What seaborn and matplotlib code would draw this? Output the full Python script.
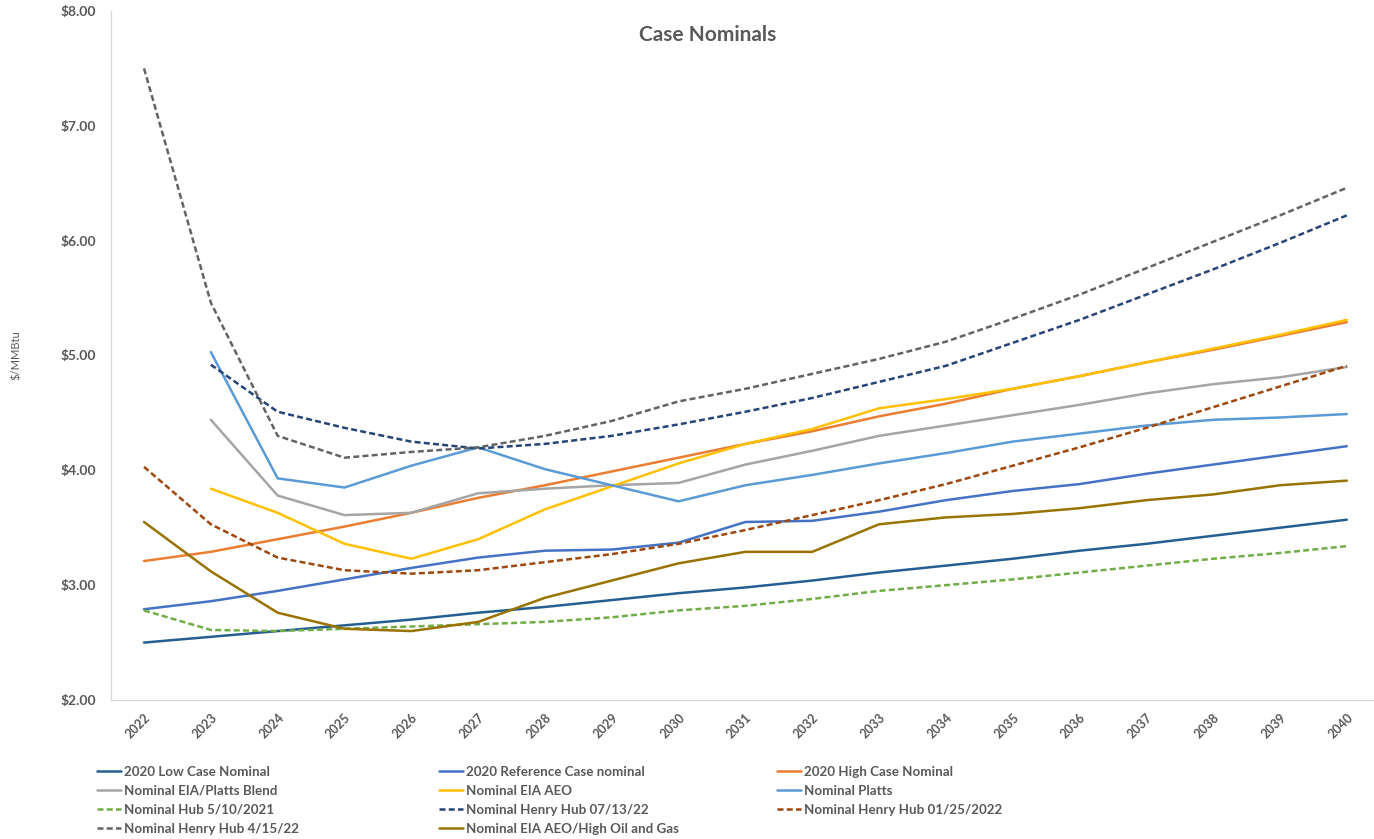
import numpy as np
import pandas as pd
import matplotlib
matplotlib.use('Agg')
import matplotlib.pyplot as plt
import seaborn as sns

# years on the category axis
years = list(range(2022, 2041))
nan = np.nan

# series values ($/MMBtu)
low_case = [2.50, 2.55, 2.60, 2.65, 2.70, 2.76, 2.81, 2.87, 2.93, 2.98, 3.04, 3.11, 3.17, 3.23, 3.30, 3.36, 3.43, 3.50, 3.57]
reference_case = [2.79, 2.86, 2.95, 3.05, 3.15, 3.24, 3.30, 3.31, 3.37, 3.55, 3.56, 3.64, 3.74, 3.82, 3.88, 3.97, 4.05, 4.13, 4.21]
high_case = [3.21, 3.29, 3.40, 3.51, 3.63, 3.76, 3.87, 3.99, 4.11, 4.23, 4.34, 4.47, 4.58, 4.71, 4.82, 4.94, 5.05, 5.17, 5.29]
platts_blend = [nan, 4.44, 3.78, 3.61, 3.63, 3.80, 3.84, 3.87, 3.89, 4.05, 4.17, 4.30, 4.39, 4.48, 4.57, 4.67, 4.75, 4.81, 4.90]
eia_aeo = [nan, 3.84, 3.63, 3.36, 3.23, 3.40, 3.66, 3.86, 4.06, 4.23, 4.36, 4.54, 4.62, 4.71, 4.82, 4.94, 5.06, 5.18, 5.31]
platts = [nan, 5.03, 3.93, 3.85, 4.04, 4.20, 4.01, 3.87, 3.73, 3.87, 3.96, 4.06, 4.15, 4.25, 4.32, 4.39, 4.44, 4.46, 4.49]
hub_051021 = [2.78, 2.61, 2.60, 2.62, 2.64, 2.66, 2.68, 2.72, 2.78, 2.82, 2.88, 2.95, 3.00, 3.05, 3.11, 3.17, 3.23, 3.28, 3.34]
hh_071322 = [nan, 4.92, 4.51, 4.37, 4.25, 4.19, 4.23, 4.30, 4.40, 4.51, 4.63, 4.77, 4.91, 5.11, 5.31, 5.53, 5.75, 5.98, 6.22]
hh_012522 = [4.03, 3.53, 3.24, 3.13, 3.10, 3.13, 3.20, 3.27, 3.36, 3.48, 3.61, 3.74, 3.88, 4.04, 4.20, 4.37, 4.55, 4.73, 4.91]
hh_041522 = [7.50, 5.46, 4.30, 4.11, 4.16, 4.20, 4.30, 4.43, 4.60, 4.71, 4.84, 4.97, 5.12, 5.32, 5.53, 5.76, 5.99, 6.22, 6.46]
aeo_high_oil = [3.55, 3.12, 2.76, 2.62, 2.60, 2.68, 2.89, 3.04, 3.19, 3.29, 3.29, 3.53, 3.59, 3.62, 3.67, 3.74, 3.79, 3.87, 3.91]

# name, values, colour, dashed, legend column
series = [
    ('2020 Low Case Nominal', low_case, '#255E91', False, 0),
    ('2020 Reference Case nominal', reference_case, '#4472C4', False, 1),
    ('2020 High Case Nominal', high_case, '#ED7D31', False, 2),
    ('Nominal EIA/Platts Blend', platts_blend, '#A5A5A5', False, 0),
    ('Nominal EIA AEO', eia_aeo, '#FFC000', False, 1),
    ('Nominal Platts', platts, '#5B9BD5', False, 2),
    ('Nominal Hub 5/10/2021', hub_051021, '#70AD47', True, 0),
    ('Nominal Henry Hub 07/13/22', hh_071322, '#264478', True, 1),
    ('Nominal Henry Hub 01/25/2022', hh_012522, '#9E480E', True, 2),
    ('Nominal Henry Hub 4/15/22', hh_041522, '#636363', True, 0),
    ('Nominal EIA AEO/High Oil and Gas', aeo_high_oil, '#997300', False, 1),
]

sns.set_style('white')
plt.rcParams['font.family'] = ['Lato', 'DejaVu Sans']

W, H = 1374, 839
fig = plt.figure(figsize=(W / 100, H / 100), dpi=100)
ax = fig.add_axes([0.0805, 0.1657, 0.924, 0.8212])

text_grey = '#595959'
columns = {0: [], 1: [], 2: []}
for name, vals, col, dashed, leg_col in series:
    df = pd.DataFrame({'year': years, 'value': vals}).dropna()
    sns.lineplot(data=df, x='year', y='value', ax=ax, color=col, lw=1.8,
                 linestyle='--' if dashed else '-')
    line = ax.lines[-1]
    if dashed:
        line.set_dashes((2.4, 1.3))
    columns[leg_col].append((line, name))

ax.set_xlim(2021.5, 2040.5)
ax.set_ylim(2, 8)
ax.set_yticks(np.arange(2, 8.01, 1))
ax.set_yticklabels([f'${v:.2f}' for v in np.arange(2, 8.01, 1)],
                   fontsize=10, fontweight='bold', color=text_grey)
ax.set_xticks(years)
ax.set_xticklabels([str(y) for y in years], rotation=45, ha='right',
                   rotation_mode='anchor', fontsize=9, fontweight='bold', color=text_grey)
ax.set_xticks(np.arange(2021.5, 2041, 1), minor=True)
ax.tick_params(axis='x', which='major', length=0, pad=8)
ax.tick_params(axis='x', which='minor', length=5, color='#D9D9D9', width=1, direction='in')
ax.tick_params(axis='y', length=5, color='#D9D9D9', width=1, direction='inout', pad=8)

for s in ['top', 'right']:
    ax.spines[s].set_visible(False)
for s in ['left', 'bottom']:
    ax.spines[s].set_color('#D9D9D9')
    ax.spines[s].set_linewidth(1)

ax.set_xlabel('')
ax.set_ylabel('$/MMBtu', fontsize=8, color=text_grey)
ax.yaxis.set_label_coords(-0.07, 0.5)
fig.text(708 / W, 1 - 35 / H, 'Case Nominals', fontsize=15, fontweight='bold',
         color=text_grey, ha='center', va='center')

# legend laid out as three separate columns, like the spreadsheet legend
col_x = [97, 439, 777]
for i in range(3):
    handles = [h for h, _ in columns[i]]
    labels = [l for _, l in columns[i]]
    leg = fig.legend(handles, labels, loc='upper left',
                     bbox_to_anchor=(col_x[i] / W, 1 - 766 / H),
                     bbox_transform=fig.transFigure, frameon=False, fontsize=9.6,
                     handlelength=1.8, handletextpad=0.25, labelspacing=0.52,
                     borderpad=0, borderaxespad=0)
    for t in leg.get_texts():
        t.set_color(text_grey)
        t.set_fontweight('bold')

fig.savefig('out.png', dpi=100)
